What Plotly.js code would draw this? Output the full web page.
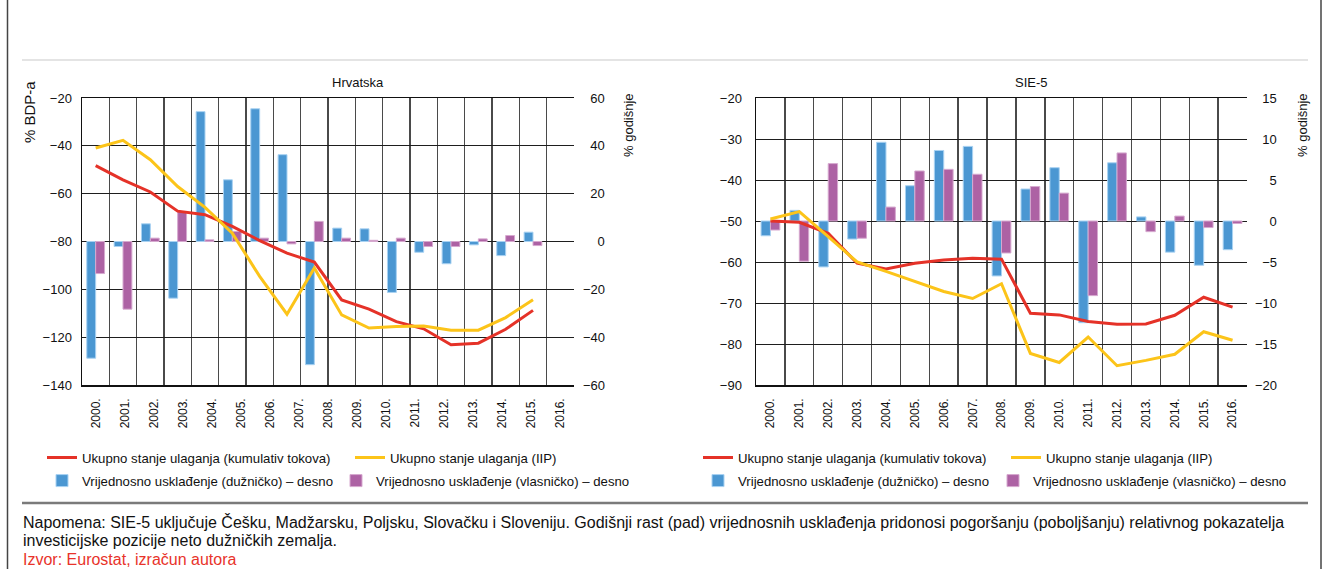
<!DOCTYPE html>
<html><head><meta charset="utf-8">
<script src="https://cdn.plot.ly/plotly-3.0.1.min.js"></script>
<style>html,body{margin:0;padding:0;background:#fff;} #chart{width:1326px;height:569px;}</style>
</head><body><div id="chart"></div>
<script>
// ---- data ----
const hrvLabels = ["2000.","2001.","2002.","2003.","2004.","2005.","2006.","2007.","2008.","2009.","2010.","2011.","2012.","2013.","2014.","2015.","2016."];
const sieLabels = ["2000.","2001.","2002.","2003.","2004.","2005.","2006.","2007.","2008.","2009.","2010.","2011.","2012.","2013.","2014.","2015.","2016."];

const hrvCumFlows = [-48.3,-54.2,-59.3,-67.3,-68.8,-73.7,-79.6,-84.9,-88.6,-104.4,-108.3,-113.5,-116.5,-123.2,-122.5,-116.7,-108.8];
const hrvIIP      = [-40.9,-37.7,-45.8,-57.0,-65.7,-76.5,-94.6,-110.4,-91.1,-110.7,-116.2,-115.5,-115.3,-117.1,-117.1,-111.8,-104.4];
const hrvDebtAdj  = [-48.8,-2.1,7.4,-23.7,54.3,25.8,55.5,36.3,-51.5,5.6,5.3,-21.3,-4.5,-9.3,-1.4,-5.9,3.9];
const hrvEqAdj    = [-13.4,-28.3,1.4,12.5,0.7,4.2,1.4,-1.0,8.4,1.4,0.5,1.4,-2.1,-2.1,1.1,2.5,-1.7];

const sieCumFlows = [-50.0,-50.3,-53.0,-60.3,-61.7,-60.3,-59.5,-59.1,-59.3,-72.5,-72.9,-74.5,-75.2,-75.1,-73.0,-68.6,-71.0];
const sieIIP      = [-49.5,-47.7,-53.8,-60.0,-62.3,-64.7,-67.2,-68.9,-65.3,-82.3,-84.5,-78.3,-85.3,-84.0,-82.5,-77.0,-79.1];
const sieDebtAdj  = [-1.8,1.3,-5.6,-2.2,9.6,4.3,8.6,9.1,-6.7,3.9,6.5,-12.4,7.1,0.5,-3.8,-5.4,-3.5];
const sieEqAdj    = [-1.1,-4.9,7.0,-2.1,1.7,6.1,6.3,5.7,-3.9,4.2,3.4,-9.1,8.3,-1.3,0.6,-0.8,-0.3];

const seriesNames = [
  "Ukupno stanje ulaganja (kumulativ tokova)",
  "Ukupno stanje ulaganja (IIP)",
  "Vrijednosno usklađenje (dužničko) – desno",
  "Vrijednosno usklađenje (vlasničko) – desno"
];
const chartTitles = ["Hrvatska", "SIE-5"];
const leftAxisTitle = "% BDP-a";
const rightAxisTitle = "% godišnje";
const noteText = "Napomena: SIE-5 uključuje Češku, Madžarsku, Poljsku, Slovačku i Sloveniju. Godišnji rast (pad) vrijednosnih usklađenja pridonosi pogoršanju (poboljšanju) relativnog pokazatelja";
const noteText2 = "investicijske pozicije neto dužničkih zemalja.";
const sourceText = "Izvor: Eurostat, izračun autora";

// ---- style ----
const W = 1326, H = 569;
const px = v => v / W, py = v => 1 - v / H;
const SANS = '"Liberation Sans", Arial, Helvetica, sans-serif';
const RED = '#e53228', YEL = '#fcc419', BLUE = '#4b97d2', PURP = '#ad62a4';

const idx = a => a.map((_, i) => i);
function tickVals(min, max, step) { const v = []; for (let t = min; t <= max + 1e-9; t += step) v.push(Math.round(t * 100) / 100); return v; }
function fmt(v) { return v < 0 ? '\u2212' + Math.abs(v) : String(v); }
function padLeft(arr) { const s = arr.map(fmt); const n = Math.max(...s.map(x => x.length)); return s.map(x => '\u2007'.repeat(n - x.length) + x); }

// left chart: labels spread across one more slot than data points (as in the original)
const hrvSlots = hrvLabels.length + 1;
const hrvTickPos = hrvLabels.map((_, i) => i * (hrvSlots - 1) / (hrvLabels.length - 1));
const hrvBounds = tickVals(0.5, hrvSlots - 1.5, 1);
const sieBounds = tickVals(0.5, sieLabels.length - 1.5, 1);

const lineW = 3;
const blueBar = {color:BLUE, line:{color:'#a9d2f2', width:1}};
const purpBar = {color:PURP, line:{color:'#d6a9cf', width:1}};
const traces = [
  // left chart
  {type:'bar', x: idx(hrvDebtAdj), y: hrvDebtAdj, xaxis:'x', yaxis:'y', name: seriesNames[2], marker: blueBar, legend:'legend3'},
  {type:'bar', x: idx(hrvEqAdj), y: hrvEqAdj, xaxis:'x', yaxis:'y', name: seriesNames[3], marker: purpBar, legend:'legend4'},
  {type:'scatter', mode:'lines', x: idx(hrvCumFlows), y: hrvCumFlows, xaxis:'x', yaxis:'y2', name: seriesNames[0], line:{color:RED, width:lineW}, legend:'legend'},
  {type:'scatter', mode:'lines', x: idx(hrvIIP), y: hrvIIP, xaxis:'x', yaxis:'y2', name: seriesNames[1], line:{color:YEL, width:lineW}, legend:'legend2'},
  // right chart
  {type:'bar', x: idx(sieDebtAdj), y: sieDebtAdj, xaxis:'x2', yaxis:'y3', name: seriesNames[2], marker: blueBar, legend:'legend7'},
  {type:'bar', x: idx(sieEqAdj), y: sieEqAdj, xaxis:'x2', yaxis:'y3', name: seriesNames[3], marker: purpBar, legend:'legend8'},
  {type:'scatter', mode:'lines', x: idx(sieCumFlows), y: sieCumFlows, xaxis:'x2', yaxis:'y4', name: seriesNames[0], line:{color:RED, width:lineW}, legend:'legend5'},
  {type:'scatter', mode:'lines', x: idx(sieIIP), y: sieIIP, xaxis:'x2', yaxis:'y4', name: seriesNames[1], line:{color:YEL, width:lineW}, legend:'legend6'}
];

const tickFont = {family: SANS, size: 13, color: '#111'};
const xTickFont = {family: SANS, size: 12, color: '#111'};
const gridCol = '#1e1e1e';
const vGridCol = '#4a4a4a';
const yDom = [py(385), py(98)];

function xAxis(dom, range, tv, tt, bounds) {
  return {domain: dom, range: range, tickmode:'array', tickvals: tv, ticktext: tt, tickangle: -90,
    tickfont: xTickFont, ticks:'', showgrid:false, zeroline:false, showline:true, linecolor:'#111', linewidth:1.5, mirror:true,
    ticklabelstandoff: 7, fixedrange:true,
    minor:{tickmode:'array', tickvals: bounds, showgrid:true, gridcolor: vGridCol, gridwidth:1.4, ticks:''}};
}
function yAxis(range, step, side, extra) {
  const tv = tickVals(range[0], range[1], step);
  return Object.assign({domain: yDom, range: range, tickmode:'array', tickvals: tv,
    ticktext: side === 'right' ? padLeft(tv) : tv.map(fmt), side: side, tickfont: tickFont, ticks:'',
    zeroline:false, fixedrange:true}, extra);
}

const hrvLeftRange = [-140, -20], hrvRightRange = [-60, 60];
const sieLeftRange = [-90, -20], sieRightRange = [-20, 15];

const legendBase = {orientation:'v', xanchor:'left', yanchor:'middle', font:{family: SANS, size: 13.2, color:'#111'},
  bgcolor:'rgba(0,0,0,0)', borderwidth:0, itemwidth:30, itemclick:false, itemdoubleclick:false};
const leg = (x, y) => Object.assign({}, legendBase, {x: px(x), y: py(y)});

const annFont = s => ({family: SANS, size: s, color:'#111'});
const layout = {
  width: W, height: H, margin:{l:0, r:0, t:0, b:0}, paper_bgcolor:'#fff', plot_bgcolor:'#fff',
  showlegend: true, barmode:'group', bargap: 0.35, bargroupgap: 0,
  font:{family: SANS, size: 13, color:'#111'},
  xaxis: Object.assign(xAxis([px(82), px(574)], [-0.5, hrvSlots - 0.5], hrvTickPos, hrvLabels, hrvBounds), {anchor:'y'}),
  yaxis: yAxis(hrvRightRange, 20, 'right', {anchor:'x', showgrid:false, showline:false, ticklabelstandoff: 8}),
  yaxis2: yAxis(hrvLeftRange, 20, 'left', {anchor:'x', overlaying:'y', showgrid:true, gridcolor:gridCol, gridwidth:1, showline:true, linecolor:'#111', linewidth:1.5, ticklabelstandoff: 6}),
  xaxis2: Object.assign(xAxis([px(756), px(1247)], [-0.5, sieLabels.length - 0.5], idx(sieLabels), sieLabels, sieBounds), {anchor:'y3'}),
  yaxis3: yAxis(sieRightRange, 5, 'right', {anchor:'x2', showgrid:false, showline:false, ticklabelstandoff: 7}),
  yaxis4: yAxis(sieLeftRange, 10, 'left', {anchor:'x2', overlaying:'y3', showgrid:true, gridcolor:gridCol, gridwidth:1, showline:true, linecolor:'#111', linewidth:1.5, ticklabelstandoff: 10}),
  legend:  leg(42, 458),
  legend2: leg(350, 458),
  legend3: leg(42, 481),
  legend4: leg(336, 481),
  legend5: leg(698, 458),
  legend6: leg(1006, 458),
  legend7: leg(698, 481),
  legend8: leg(993, 481),
  annotations: [
    {text: chartTitles[0], xref:'paper', yref:'paper', x: px(358), y: py(83), xanchor:'center', yanchor:'middle', showarrow:false, font: annFont(13)},
    {text: chartTitles[1], xref:'paper', yref:'paper', x: px(1031), y: py(83), xanchor:'center', yanchor:'middle', showarrow:false, font: annFont(13)},
    {text: leftAxisTitle, xref:'paper', yref:'paper', x: px(29), y: py(112), textangle:-90, xanchor:'center', yanchor:'middle', showarrow:false, font: annFont(15)},
    {text: rightAxisTitle, xref:'paper', yref:'paper', x: px(629), y: py(125), textangle:-90, xanchor:'center', yanchor:'middle', showarrow:false, font: annFont(13)},
    {text: rightAxisTitle, xref:'paper', yref:'paper', x: px(1303), y: py(125), textangle:-90, xanchor:'center', yanchor:'middle', showarrow:false, font: annFont(13)},
    {text: noteText, xref:'paper', yref:'paper', x: px(21), y: py(522), xanchor:'left', yanchor:'middle', showarrow:false, font: annFont(16)},
    {text: noteText2, xref:'paper', yref:'paper', x: px(21), y: py(540), xanchor:'left', yanchor:'middle', showarrow:false, font: annFont(16)},
    {text: sourceText, xref:'paper', yref:'paper', x: px(21), y: py(559), xanchor:'left', yanchor:'middle', showarrow:false, font:{family: SANS, size:16, color:'#e8332a'}}
  ],
  shapes: [
    {type:'line', xref:'paper', yref:'paper', x0: px(7.5), x1: px(7.5), y0: 0, y1: 1, line:{color:'#444', width:1.5}},
    {type:'line', xref:'paper', yref:'paper', x0: px(1321), x1: px(1321), y0: 0, y1: 1, line:{color:'#444', width:1.5}},
    {type:'line', xref:'paper', yref:'paper', x0: px(22), x1: px(1308), y0: py(60), y1: py(60), line:{color:'#e4e4e4', width:2}},
    {type:'line', xref:'paper', yref:'paper', x0: px(22), x1: px(1308), y0: py(503), y1: py(503), line:{color:'#7a7a7a', width:2.5}}
  ]
};

Plotly.newPlot('chart', traces, layout, {displayModeBar:false, staticPlot:true});
</script></body></html>
